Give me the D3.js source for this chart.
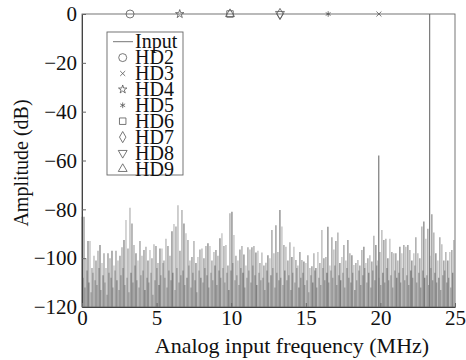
<!DOCTYPE html>
<html>
<head>
<meta charset="utf-8">
<script src="https://cdn.jsdelivr.net/npm/d3@7"></script>
<style>
  body { margin: 0; background: #fff; }
</style>
</head>
<body>
<svg id="chart" width="466" height="360"></svg>
<script>
// FFT bin spacing (MHz)
const binStep = 0.134;

// noise floor peaks, one value per bin (dB)
const peaks = [
  -83, -83, -100, -93, -93, -104, -99, -101, -97, -94.6,
  -102, -98, -104, -98, -100, -97, -103, -97, -101, -99,
  -95.5, -92.6, -84.4, -96, -79.4, -85.8, -94.6, -98, -101, -93,
  -99, -96.7, -95.3, -101, -96.7, -100, -94.3, -95, -102, -96,
  -96, -101, -92, -95, -99, -89, -86, -87, -78.3, -97,
  -80.3, -85.8, -89.8, -92.6, -101, -99.5, -93, -102, -99.5, -96.5,
  -96, -100, -95, -93.9, -95, -101, -97.5, -96.7, -99, -91.8,
  -89.8, -95, -94.6, -103, -81.6, -81, -90.5, -99, -101, -96.5,
  -95, -98.5, -103, -95.5, -96.5, -95.5, -95, -97.7, -97, -102,
  -97.7, -103, -101.9, -98.8, -100, -88.5, -98, -86.5, -97.5, -80.3,
  -87, -94.6, -95.3, -101, -93.5, -99.5, -95.3, -100.7, -103, -97.5,
  -100.7, -101.4, -102, -98.8, -104, -103.3, -98, -104, -97.5, -102,
  -88.5, -100, -99.5, -87.1, -103, -91.4, -96.5, -93, -89.5, -102,
  -99.5, -94.6, -101, -92.6, -98, -98.8, -102.8, -102, -100.7, -103,
  -96.7, -95.3, -102, -100, -98.8, -101.4, -90.8, -94.6, -101, -97.5,
  -88.5, -92.6, -92, -100, -92, -97.5, -98, -98, -101, -95.3,
  -98, -94.6, -95.3, -94.6, -96.7, -101, -98, -91.4, -98, -100,
  -87, -85, -92, -88, -99, -82, -89.5, -98, -101, -91.4,
  -94.3, -101, -97.5, -101, -97.5, -96.7, -92.6
];

// lower bins in between the peaks (dB)
const floorBins = [
  -108, -112, -105, -110, -114, -106, -109, -111, -104, -113,
  -107, -110, -115, -106, -108, -112, -105, -109, -113, -107,
  -104, -111, -108, -114, -106, -110, -103, -109, -112, -107,
  -105, -113, -108, -110, -106, -115, -109, -104, -111, -107,
  -102, -108, -112, -105, -109, -106, -113, -104, -110, -107,
  -105, -111, -108, -103, -112, -106, -109, -114, -105, -108,
  -110, -104, -107, -112, -106, -109, -103, -111, -105, -108,
  -104, -110, -106, -113, -105, -102, -109, -107, -111, -104,
  -106, -112, -108, -105, -110, -103, -107, -111, -106, -109,
  -108, -113, -105, -110, -107, -104, -112, -106, -109, -108,
  -111, -105, -109, -107, -113, -106, -110, -104, -112, -108,
  -106, -111, -109, -114, -107, -110, -105, -112, -108, -111,
  -104, -109, -106, -110, -105, -108, -103, -111, -107, -109,
  -106, -112, -104, -108, -110, -106, -113, -109, -105, -111,
  -107, -104, -110, -106, -112, -105, -109, -103, -108, -111,
  -106, -110, -104, -109, -107, -112, -105, -108, -106, -110,
  -104, -109, -107, -111, -105, -108, -103, -110, -106, -112,
  -105, -108, -107, -111, -104, -109, -106, -110, -108, -113,
  -107, -105, -110, -108, -112, -106
];

// fundamental and the large spur
const tones = [
  { f: 23.3, db: 0 },
  { f: 19.89, db: -58 }
];

// harmonic positions marked on the plot
const hdNames = ["HD2", "HD3", "HD4", "HD5", "HD6", "HD7", "HD8", "HD9"];
const hdFreq  = [3.22, 19.9, 6.55, 16.5, 9.92, 13.27, 13.27, 9.92];
const hdLevel = [0, 0, 0, 0, 0, 0, 0, 0];

const xTicks = [0, 5, 10, 15, 20, 25];
const yTicks = [0, -20, -40, -60, -80, -100, -120];

const serif = "Liberation Serif, Tinos, Nimbus Roman, Nimbus Roman No9 L, Times New Roman, Times, FreeSerif, DejaVu Serif, Noto Serif, Noto Serif CJK SC, serif";

const margin = { top: 14, right: 11, bottom: 53, left: 82 };
const width = 466 - margin.left - margin.right;
const height = 360 - margin.top - margin.bottom;

const svg = d3.select("#chart").style("font-family", serif);
const g = svg.append("g")
  .attr("transform", "translate(" + margin.left + "," + margin.top + ")");

const x = d3.scaleLinear().domain([0, 25]).range([0, width]);
const y = d3.scaleLinear().domain([-120, 0]).range([height, 0]);

// spectrum
const shades = ["#a8a8a8", "#808080", "#999", "#707070", "#b4b4b4", "#8c8c8c"];
g.append("g").selectAll("line")
  .data(floorBins)
  .enter().append("line")
  .attr("x1", (d, i) => x((i + 0.5) * binStep))
  .attr("x2", (d, i) => x((i + 0.5) * binStep))
  .attr("y1", y(-120))
  .attr("y2", d => y(d))
  .attr("stroke", (d, i) => i % 7 == 3 ? "#4a4a4a" : "#7a7a7a")
  .attr("stroke-width", 1.1);

g.append("g").selectAll("line")
  .data(peaks)
  .enter().append("line")
  .attr("x1", (d, i) => x(i * binStep))
  .attr("x2", (d, i) => x(i * binStep))
  .attr("y1", y(-120))
  .attr("y2", d => y(d))
  .attr("stroke", (d, i) => shades[i % shades.length])
  .attr("stroke-width", 1.1);

g.append("g").selectAll("line")
  .data(tones)
  .enter().append("line")
  .attr("x1", d => x(d.f))
  .attr("x2", d => x(d.f))
  .attr("y1", y(-120))
  .attr("y2", d => y(d.db))
  .attr("stroke", "#7a7a7a")
  .attr("stroke-width", 1.2);

// box
g.append("rect")
  .attr("width", width)
  .attr("height", height)
  .attr("fill", "none")
  .attr("stroke", "#666")
  .attr("stroke-width", 0.9);

// axes
const yAxis = g.append("g")
  .call(d3.axisLeft(y).tickValues(yTicks).tickSizeInner(-4).tickSizeOuter(0).tickPadding(5));
const xAxis = g.append("g")
  .attr("transform", "translate(0," + height + ")")
  .call(d3.axisBottom(x).tickValues(xTicks).tickSizeInner(-4).tickSizeOuter(0).tickPadding(3));

[xAxis, yAxis].forEach(a => {
  a.attr("font-family", null).attr("font-size", 21);
  a.select(".domain").attr("stroke", "#444");
  a.selectAll(".tick line").attr("stroke", "#666");
  a.selectAll("text").attr("fill", "#111");
});

// harmonic markers
const symbolOf = {
  HD2: d3.symbolCircle, HD3: d3.symbolX, HD4: d3.symbolStar, HD5: d3.symbolAsterisk,
  HD6: d3.symbolSquare, HD7: d3.symbolDiamond, HD8: d3.symbolTriangle, HD9: d3.symbolTriangle
};
const sizeOf = { HD2: 50, HD3: 18, HD4: 22, HD5: 22, HD6: 42, HD7: 36, HD8: 34, HD9: 34 };
const rotOf = { HD8: 180 };

function marker(sel, name) {
  sel.append("path")
    .attr("d", d3.symbol().type(symbolOf[name]).size(sizeOf[name])())
    .attr("transform", "rotate(" + (rotOf[name] || 0) + ")")
    .attr("fill", "none")
    .attr("stroke", "#555")
    .attr("stroke-width", 0.8);
}

hdNames.forEach((name, i) => {
  const m = g.append("g")
    .attr("transform", "translate(" + x(hdFreq[i]) + "," + y(hdLevel[i]) + ")");
  marker(m, name);
});

// legend
const legend = svg.append("g")
  .attr("transform", "translate(107,32)")
  .attr("font-size", 20);
legend.append("rect")
  .attr("width", 76)
  .attr("height", 143)
  .attr("fill", "#fff")
  .attr("stroke", "#666")
  .attr("stroke-width", 0.9);

const rowH = 15.9;
legend.append("line")
  .attr("x1", 6).attr("x2", 26)
  .attr("y1", 9.7).attr("y2", 9.7)
  .attr("stroke", "#777").attr("stroke-width", 1);
legend.append("text")
  .attr("x", 28).attr("y", 16.3)
  .attr("fill", "#111")
  .text("Input");

hdNames.forEach((name, i) => {
  const cy = 9.7 + rowH * (i + 1);
  const item = legend.append("g").attr("transform", "translate(15.7," + cy + ")");
  marker(item, name);
  legend.append("text")
    .attr("x", 28).attr("y", cy + 6.6)
    .attr("fill", "#111")
    .text(name);
});

// axis titles
svg.append("text")
  .attr("x", 292)
  .attr("y", 353)
  .attr("text-anchor", "middle")
  .attr("font-size", 22)
  .attr("fill", "#111")
  .text("Analog input frequency (MHz)");

svg.append("text")
  .attr("transform", "translate(28,163) rotate(-90)")
  .attr("text-anchor", "middle")
  .attr("font-size", 20)
  .attr("fill", "#111")
  .text("Amplitude (dB)");
</script>
</body>
</html>
